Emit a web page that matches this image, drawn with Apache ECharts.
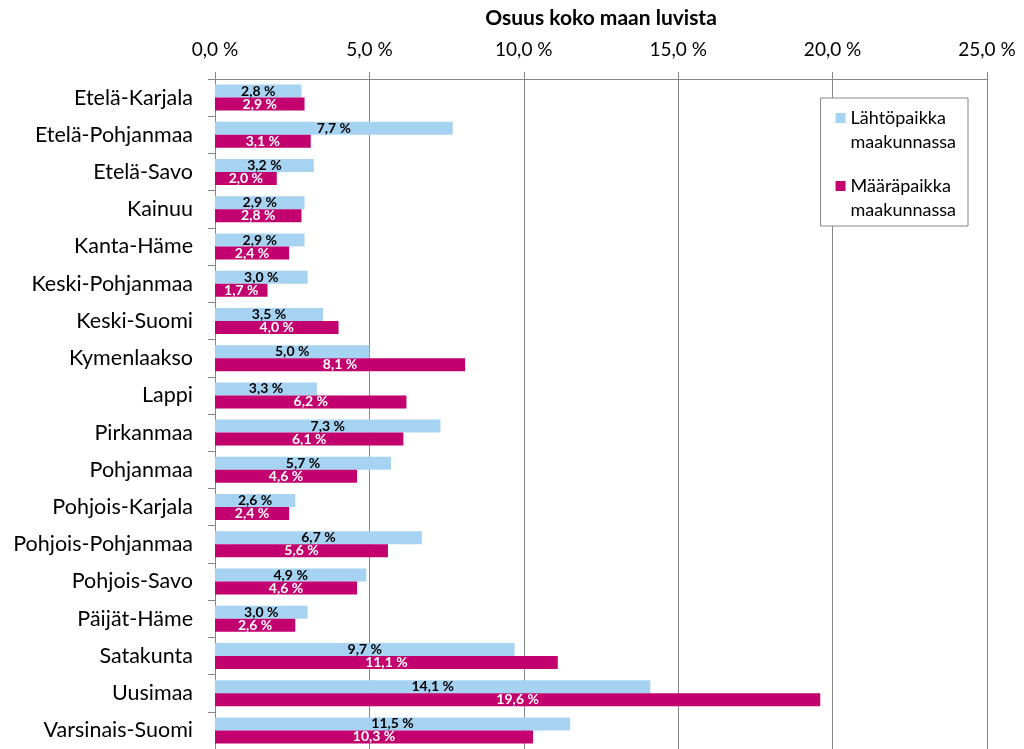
<!DOCTYPE html>
<html>
<head>
<meta charset="utf-8">
<script src="https://cdn.jsdelivr.net/npm/echarts@6/dist/echarts.min.js"></script>
<style>
  html, body { margin: 0; padding: 0; background: #fff; }
  #chart { width: 1024px; height: 749px; }
</style>
</head>
<body>
<div id="chart"></div>
<script>
  const regions = ['Etelä-Karjala', 'Etelä-Pohjanmaa', 'Etelä-Savo', 'Kainuu', 'Kanta-Häme',
    'Keski-Pohjanmaa', 'Keski-Suomi', 'Kymenlaakso', 'Lappi', 'Pirkanmaa', 'Pohjanmaa',
    'Pohjois-Karjala', 'Pohjois-Pohjanmaa', 'Pohjois-Savo', 'Päijät-Häme', 'Satakunta',
    'Uusimaa', 'Varsinais-Suomi']
  const lahto = [2.8, 7.7, 3.2, 2.9, 2.9, 3.0, 3.5, 5.0, 3.3, 7.3, 5.7, 2.6, 6.7, 4.9, 3.0, 9.7, 14.1, 11.5]
  const maara = [2.9, 3.1, 2.0, 2.8, 2.4, 1.7, 4.0, 8.1, 6.2, 6.1, 4.6, 2.4, 5.6, 4.6, 2.6, 11.1, 19.6, 10.3]
  const xTicks = { min: 0, max: 25, step: 5 }

  const font = 'Lato, "Open Sans", sans-serif'
  const pct = v => v.toFixed(1).replace('.', ',') + ' %'
  const gray = '#868686'

  const chart = echarts.init(document.getElementById('chart'))
  chart.setOption({
    animation: false,
    textStyle: { fontFamily: font },
    grid: { left: 215, right: 37, top: 79, bottom: 0 },
    legend: {
      right: 56,
      top: 98,
      orient: 'vertical',
      backgroundColor: '#fff',
      borderColor: gray,
      borderWidth: 1,
      padding: [8, 12, 4, 15],
      itemGap: 20,
      itemWidth: 10,
      itemHeight: 48,
      // square at the first text line
      icon: 'path://M0,0M0,7H10V17H0ZM0,48',
      formatter: name => name.replace(' ', '\n'),
      textStyle: { fontSize: 18, lineHeight: 24, color: '#000', fontFamily: font }
    },
    xAxis: {
      type: 'value',
      position: 'top',
      min: xTicks.min,
      max: xTicks.max,
      interval: xTicks.step,
      name: 'Osuus koko maan luvista',
      nameLocation: 'middle',
      nameGap: 50,
      nameTextStyle: { fontSize: 21, fontWeight: 'bold', color: '#000', fontFamily: font },
      axisLine: { show: true, lineStyle: { color: gray } },
      axisTick: { show: true, length: 7, lineStyle: { color: gray } },
      axisLabel: { formatter: pct, fontSize: 19, color: '#000', margin: 20 },
      splitLine: { show: true, lineStyle: { color: gray } }
    },
    yAxis: {
      type: 'category',
      data: regions,
      inverse: true,
      axisLine: { show: true, lineStyle: { color: gray } },
      axisTick: { show: true, length: 7, lineStyle: { color: gray } },
      axisLabel: { fontSize: 21.5, color: '#000', margin: 22 }
    },
    series: [
      {
        name: 'Lähtöpaikka maakunnassa',
        type: 'bar',
        data: lahto,
        barWidth: 13,
        barGap: '0%',
        itemStyle: { color: '#A7D3F3' },
        label: {
          show: true, position: 'inside', formatter: p => pct(p.value),
          fontSize: 14, fontWeight: 'bold', color: '#000'
        }
      },
      {
        name: 'Määräpaikka maakunnassa',
        type: 'bar',
        data: maara,
        barWidth: 13,
        barGap: '0%',
        itemStyle: { color: '#C2006E' },
        label: {
          show: true, position: 'inside', formatter: p => pct(p.value),
          fontSize: 14, fontWeight: 'bold', color: '#fff'
        }
      }
    ]
  })
</script>
</body>
</html>
